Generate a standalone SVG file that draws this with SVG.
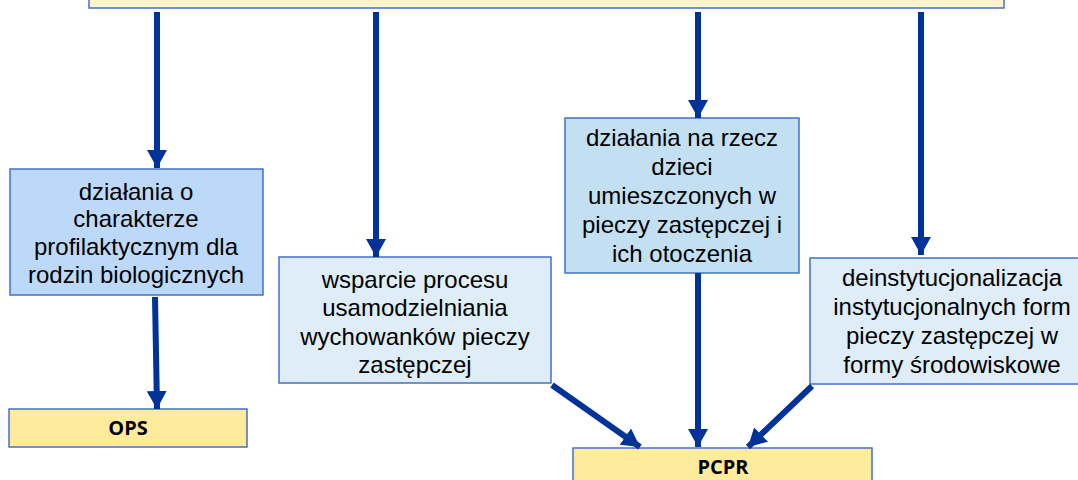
<svg xmlns="http://www.w3.org/2000/svg" width="1078" height="480" viewBox="0 0 1078 480">
<style>
.t{font-family:"Liberation Sans",Arial,sans-serif;font-size:24px;fill:#000;text-anchor:middle}
.b{font-family:"Open Sans","Liberation Sans",sans-serif;font-size:20px;font-weight:bold;fill:#000;text-anchor:middle}
.bx{stroke:#4472C4;stroke-width:1.5}
.y{fill:#FFEB9C;stroke:#4472C4;stroke-width:1.5}
.c{stroke:#003399;stroke-width:6;fill:none}
</style>
<defs>
<marker id="ah" markerUnits="userSpaceOnUse" markerWidth="20" markerHeight="20" refX="18" refY="10" orient="auto">
<path d="M0,0 L18,10 L0,20 z" fill="#003399"/>
</marker>
</defs>
<rect width="1078" height="480" fill="#fff"/>
<g id="top"><rect x="89" y="-40" width="915" height="48" fill="#FFF3CC" class="bx"/></g>
<g id="n1"><rect x="10" y="169" width="253" height="126" fill="#BDD9F9" class="bx"/>
<text class="t" x="136" y="200">działania o</text>
<text class="t" x="136" y="227">charakterze</text>
<text class="t" x="136" y="255">profilaktycznym dla</text>
<text class="t" x="136" y="283">rodzin biologicznych</text></g>
<g id="n2"><rect x="279" y="257" width="272" height="126" fill="#DEEDF8" class="bx"/>
<text class="t" x="415" y="288">wsparcie procesu</text>
<text class="t" x="415" y="316">usamodzielniania</text>
<text class="t" x="415" y="345">wychowanków pieczy</text>
<text class="t" x="415" y="373">zastępczej</text></g>
<g id="n3"><rect x="565" y="118" width="234" height="155" fill="#C3E0F3" class="bx"/>
<text class="t" x="682" y="146">działania na rzecz</text>
<text class="t" x="682" y="175">dzieci</text>
<text class="t" x="682" y="204">umieszczonych w</text>
<text class="t" x="682" y="233">pieczy zastępczej i</text>
<text class="t" x="682" y="262">ich otoczenia</text></g>
<g id="n4"><rect x="810" y="258" width="290" height="126" fill="#DEEDF8" class="bx"/>
<text class="t" x="952" y="286">deinstytucjonalizacja</text>
<text class="t" x="952" y="315">instytucjonalnych form</text>
<text class="t" x="952" y="344">pieczy zastępczej w</text>
<text class="t" x="952" y="373">formy środowiskowe</text></g>
<g id="ops"><rect x="9" y="409" width="238" height="38" class="y"/>
<text class="b" x="128" y="435">OPS</text></g>
<g id="pcpr"><rect x="573" y="448" width="299" height="40" class="y"/>
<text class="b" x="723" y="474">PCPR</text></g>
<g id="connectors">
<line class="c" x1="157" y1="12" x2="157" y2="168" marker-end="url(#ah)"/>
<line class="c" x1="376" y1="12" x2="376" y2="257" marker-end="url(#ah)"/>
<line class="c" x1="698" y1="12" x2="698" y2="118" marker-end="url(#ah)"/>
<line class="c" x1="921" y1="12" x2="921" y2="255" marker-end="url(#ah)"/>
<line class="c" x1="155" y1="297" x2="157" y2="409" marker-end="url(#ah)"/>
<line class="c" x1="698" y1="273" x2="698" y2="447" marker-end="url(#ah)"/>
<line class="c" x1="552" y1="385" x2="640" y2="447" marker-end="url(#ah)"/>
<line class="c" x1="812" y1="386" x2="748" y2="447" marker-end="url(#ah)"/>
</g>
</svg>
